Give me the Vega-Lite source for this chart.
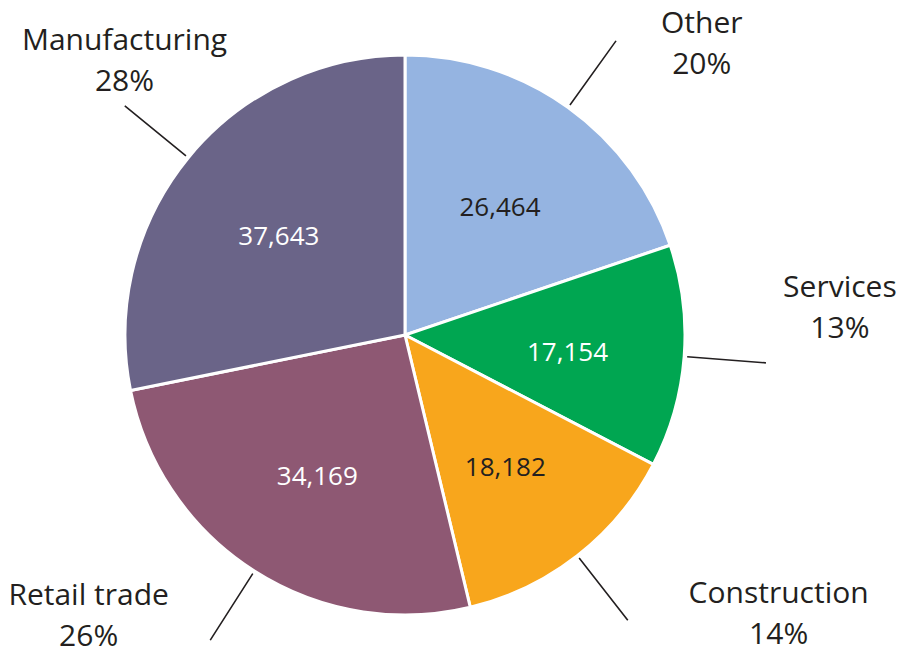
{
  "$schema": "https://vega.github.io/schema/vega-lite/v6.json",
  "width": 810,
  "height": 638,
  "autosize": {"type": "none"},
  "padding": {"left": 0, "top": 16, "right": 89, "bottom": 0},
  "background": "white",
  "config": {"view": {"stroke": null}, "text": {"font": "Open Sans"}},
  "data": {
    "values": [
      {"Category": "Other", "Count": 26464},
      {"Category": "Services", "Count": 17154},
      {"Category": "Construction", "Count": 18182},
      {"Category": "Retail trade", "Count": 34169},
      {"Category": "Manufacturing", "Count": 37643}
    ]
  },
  "transform": [
    {"window": [{"op": "row_number", "as": "idx"}, {"op": "sum", "field": "Count", "as": "cum"}]},
    {"joinaggregate": [{"op": "sum", "field": "Count", "as": "total"}]},
    {"calculate": "2 * PI * (datum.cum - datum.Count / 2) / datum.total", "as": "mid"},
    {"calculate": "datum.Category + '\\n' + format(datum.Count / datum.total, '.0%')", "as": "label"}
  ],
  "resolve": {"scale": {"theta": "independent"}},
  "layer": [
    {
      "mark": {"type": "arc", "outerRadius": 280, "stroke": "white", "strokeWidth": 3},
      "encoding": {
        "theta": {"field": "Count", "type": "quantitative", "stack": true},
        "order": {"field": "idx", "type": "quantitative"},
        "color": {
          "field": "Category",
          "type": "nominal",
          "legend": null,
          "scale": {
            "domain": ["Other", "Services", "Construction", "Retail trade", "Manufacturing"],
            "range": ["#95B4E1", "#00A651", "#F8A61C", "#8E5873", "#6A6488"]
          }
        }
      }
    },
    {
      "mark": {"type": "text", "radius": 163, "dy": 5, "fontSize": 26, "align": "center", "baseline": "middle"},
      "encoding": {
        "theta": {"field": "Count", "type": "quantitative", "stack": true},
        "order": {"field": "idx", "type": "quantitative"},
        "text": {"field": "Count", "type": "quantitative", "format": ","},
        "color": {
          "condition": {"test": "datum.Category === 'Other' || datum.Category === 'Construction'", "value": "#231F20"},
          "value": "#FFFFFF"
        }
      }
    },
    {
      "mark": {"type": "arc", "innerRadius": 283, "outerRadius": 362, "stroke": "#231F20", "strokeWidth": 1.6, "fill": "#231F20"},
      "encoding": {
        "theta": {"field": "mid", "type": "quantitative", "scale": null, "stack": null},
        "theta2": {"field": "mid"}
      }
    },
    {
      "transform": [{"filter": "datum.Category === 'Other'"}],
      "mark": {"type": "text", "radius": 365, "dx": 84, "dy": -14, "fontSize": 30, "lineBreak": "\n", "lineHeight": 41, "align": "center", "baseline": "middle", "color": "#231F20"},
      "encoding": {
        "theta": {"field": "mid", "type": "quantitative", "scale": null, "stack": null},
        "text": {"field": "label", "type": "nominal"}
      }
    },
    {
      "transform": [{"filter": "datum.Category === 'Services'"}],
      "mark": {"type": "text", "radius": 365, "dx": 71, "dy": -75, "fontSize": 30, "lineBreak": "\n", "lineHeight": 41, "align": "center", "baseline": "middle", "color": "#231F20"},
      "encoding": {
        "theta": {"field": "mid", "type": "quantitative", "scale": null, "stack": null},
        "text": {"field": "label", "type": "nominal"}
      }
    },
    {
      "transform": [{"filter": "datum.Category === 'Construction'"}],
      "mark": {"type": "text", "radius": 365, "dx": 149, "dy": -29, "fontSize": 30, "lineBreak": "\n", "lineHeight": 41, "align": "center", "baseline": "middle", "color": "#231F20"},
      "encoding": {
        "theta": {"field": "mid", "type": "quantitative", "scale": null, "stack": null},
        "text": {"field": "label", "type": "nominal"}
      }
    },
    {
      "transform": [{"filter": "datum.Category === 'Retail trade'"}],
      "mark": {"type": "text", "radius": 365, "dx": -120, "dy": -47, "fontSize": 30, "lineBreak": "\n", "lineHeight": 41, "align": "center", "baseline": "middle", "color": "#231F20"},
      "encoding": {
        "theta": {"field": "mid", "type": "quantitative", "scale": null, "stack": null},
        "text": {"field": "label", "type": "nominal"}
      }
    },
    {
      "transform": [{"filter": "datum.Category === 'Manufacturing'"}],
      "mark": {"type": "text", "radius": 365, "dx": 2, "dy": -63, "fontSize": 30, "lineBreak": "\n", "lineHeight": 41, "align": "center", "baseline": "middle", "color": "#231F20"},
      "encoding": {
        "theta": {"field": "mid", "type": "quantitative", "scale": null, "stack": null},
        "text": {"field": "label", "type": "nominal"}
      }
    }
  ]
}
